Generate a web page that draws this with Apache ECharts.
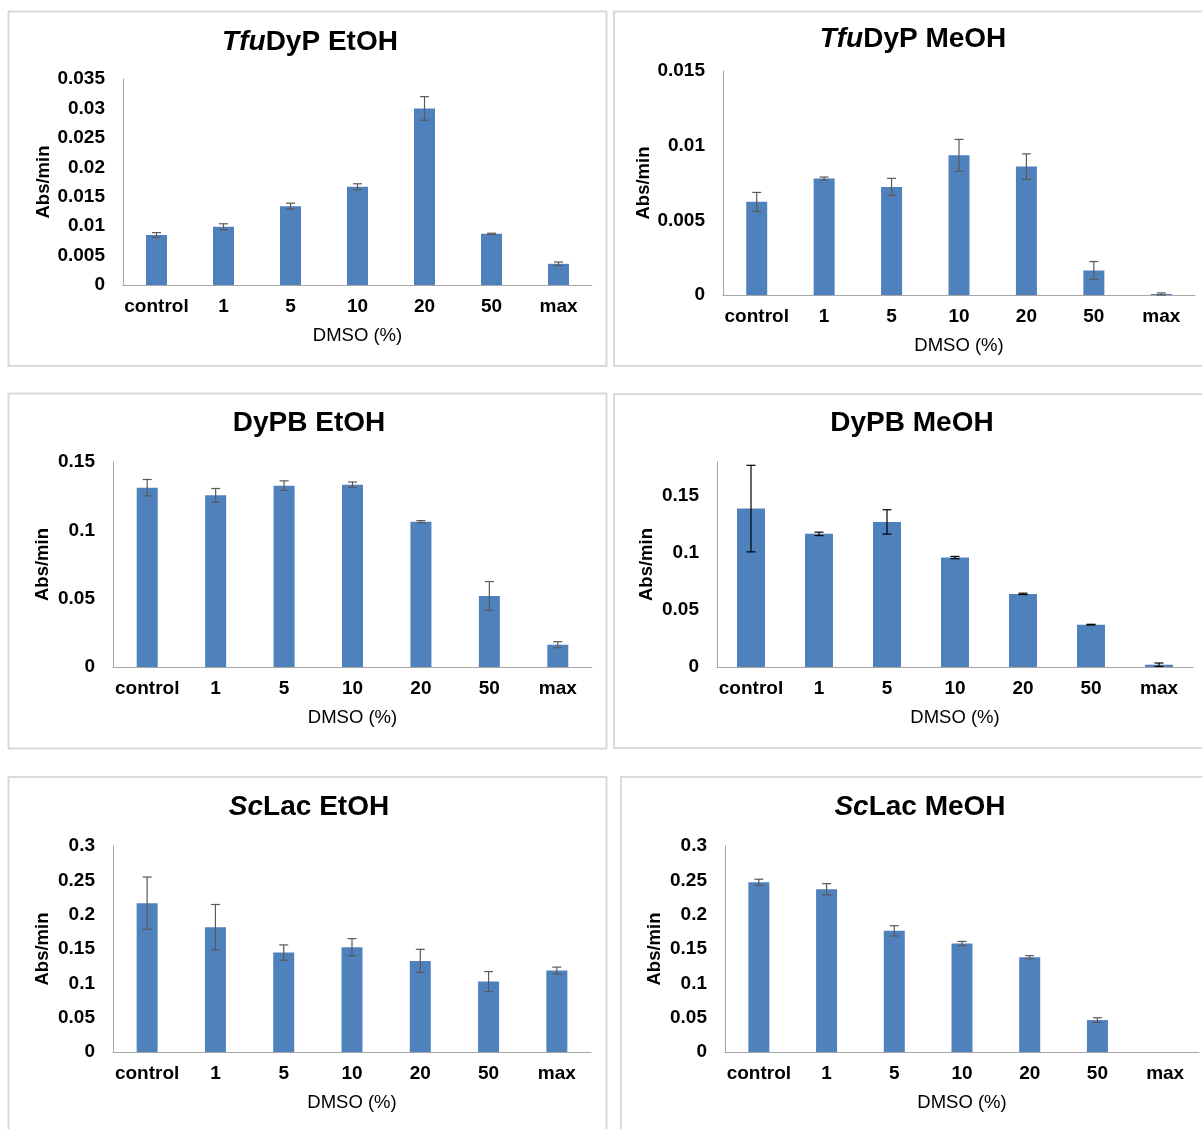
<!DOCTYPE html>
<html>
<head>
<meta charset="utf-8">
<script src="https://cdn.jsdelivr.net/npm/echarts@6/dist/echarts.min.js"></script>
<style>
html,body{margin:0;padding:0;background:#fff;}
#c{width:1202px;height:1129px;}
</style>
</head>
<body>
<div id="c"></div>
<script>
// ---- data ----
const categories = ['control', '1', '5', '10', '20', '50', 'max'];

const tfuEtOH    = [0.0085, 0.0099, 0.0134, 0.0167, 0.0300, 0.0087, 0.0036];
const tfuEtOHErr = [0.0004, 0.0005, 0.0005, 0.0005, 0.0020, 0.0001, 0.0003];

const tfuMeOH    = [0.00624, 0.0078, 0.00724, 0.00935, 0.0086, 0.00164, 0.00007];
const tfuMeOHErr = [0.00063, 0.0001, 0.00057, 0.00107, 0.00085, 0.0006, 0.00007];

const dypbEtOH    = [0.1312, 0.1256, 0.1327, 0.1334, 0.1063, 0.052, 0.0163];
const dypbEtOHErr = [0.006, 0.005, 0.0035, 0.002, 0.0008, 0.0105, 0.0022];

const dypbMeOH    = [0.1391, 0.1169, 0.1274, 0.0961, 0.0642, 0.0372, 0.002];
const dypbMeOHErr = [0.038, 0.0015, 0.0107, 0.001, 0.0006, 0.0003, 0.0015];

const scEtOH    = [0.2168, 0.1818, 0.1448, 0.1527, 0.1327, 0.1025, 0.1186];
const scEtOHErr = [0.038, 0.033, 0.0112, 0.0124, 0.0168, 0.0146, 0.005];

const scMeOH    = [0.2472, 0.237, 0.1764, 0.158, 0.1381, 0.0465, null];
const scMeOHErr = [0.0044, 0.0082, 0.0075, 0.003, 0.0022, 0.0034, null];

// y-axis tick settings (max, step) per panel
const yMax  = [0.035, 0.015, 0.15, 0.18, 0.3, 0.3];
const yStep = [0.005, 0.005, 0.05, 0.05, 0.05, 0.05];

const titles = [
  ['Tfu', 'DyP EtOH'], ['Tfu', 'DyP MeOH'],
  ['', 'DyPB EtOH'],   ['', 'DyPB MeOH'],
  ['Sc', 'Lac EtOH'],  ['Sc', 'Lac MeOH']
];
const xName = 'DMSO (%)';
const yName = 'Abs/min';

// ---- layout ----
const FONT = 'Liberation Sans, Arial, sans-serif';
const panels = [
  {grid:{left:123, top:79,  width:469, height:206}, box:[8.5,11.5,598,354.5],  title:[310,42],  gapY:70, barW:21, errColor:'#595959', hideMax:false},
  {grid:{left:723, top:71,  width:472, height:224}, box:[614,11.5,600,354.5],  title:[913,39],  gapY:67, barW:21, errColor:'#595959', hideMax:false},
  {grid:{left:113, top:462, width:479, height:205}, box:[8.5,393.5,598,355],   title:[309,423], gapY:61, barW:21, errColor:'#595959', hideMax:false},
  {grid:{left:717, top:462, width:476, height:205}, box:[614,394,600,354],     title:[912,423], gapY:61, barW:28, errColor:'#000000', hideMax:true},
  {grid:{left:113, top:846, width:478, height:206}, box:[8.5,777,598,400],     title:[309,807], gapY:61, barW:21, errColor:'#595959', hideMax:false},
  {grid:{left:725, top:846, width:474, height:206}, box:[621,777,600,400],     title:[920,807], gapY:61, barW:21, errColor:'#595959', hideMax:false}
];
const values = [tfuEtOH, tfuMeOH, dypbEtOH, dypbMeOH, scEtOH, scMeOH];
const errors = [tfuEtOHErr, tfuMeOHErr, dypbEtOHErr, dypbMeOHErr, scEtOHErr, scMeOHErr];

const grids = [], xAxes = [], yAxes = [], series = [], graphics = [];

panels.forEach((p, i) => {
  grids.push(Object.assign({containLabel:false}, p.grid));
  xAxes.push({
    type:'category', gridIndex:i, data:categories,
    axisLine:{lineStyle:{color:'#a6a6a6', width:1}},
    axisTick:{show:false},
    axisLabel:{color:'#000', fontSize:19, fontWeight:'bold', fontFamily:FONT, margin:12, interval:0},
    name:xName, nameLocation:'middle', nameGap:41,
    nameTextStyle:{color:'#000', fontSize:18.5, fontFamily:FONT}
  });
  yAxes.push({
    type:'value', gridIndex:i, min:0, max:yMax[i], interval:yStep[i],
    axisLine:{show:true, lineStyle:{color:'#a6a6a6', width:1}},
    axisTick:{show:false},
    splitLine:{show:false},
    axisLabel:{color:'#000', fontSize:19, fontWeight:'bold', fontFamily:FONT, margin:18,
      showMaxLabel: !p.hideMax,
      formatter: v => String(parseFloat(Number(v).toFixed(4)))},
    name:yName, nameLocation:'middle', nameGap:p.gapY, nameRotate:90,
    nameTextStyle:{color:'#000', fontSize:18.5, fontWeight:'bold', fontFamily:FONT}
  });
  series.push({
    type:'bar', xAxisIndex:i, yAxisIndex:i, data:values[i], barWidth:p.barW,
    itemStyle:{color:'#4F81BD'}, silent:true, animation:false
  });
  const errData = values[i].map((v, k) => v == null ? null : [k, v, errors[i][k]]).filter(d => d);
  const col = p.errColor;
  series.push({
    type:'custom', xAxisIndex:i, yAxisIndex:i, z:5, animation:false, silent:true,
    data: errData,
    encode:{x:0, y:1},
    renderItem: (params, api) => {
      const x = api.value(0), v = api.value(1), e = api.value(2);
      const top = api.coord([x, v + e]);
      const bot = api.coord([x, Math.max(0, v - e)]);
      const hw = 4.5;
      const st = {stroke:col, lineWidth:1.2};
      return {type:'group', children:[
        {type:'line', shape:{x1:top[0], y1:top[1], x2:bot[0], y2:bot[1]}, style:st},
        {type:'line', shape:{x1:top[0]-hw, y1:top[1], x2:top[0]+hw, y2:top[1]}, style:st},
        {type:'line', shape:{x1:bot[0]-hw, y1:bot[1], x2:bot[0]+hw, y2:bot[1]}, style:st}
      ]};
    }
  });
  graphics.push({
    type:'rect', shape:{x:p.box[0], y:p.box[1], width:p.box[2], height:p.box[3]},
    style:{fill:null, stroke:'#d9d9d9', lineWidth:2}, silent:true, z:-1
  });
  const t = titles[i];
  graphics.push({
    type:'text', x:p.title[0], y:p.title[1], silent:true,
    style:{
      text: (t[0] ? '{i|' + t[0] + '}' : '') + '{n|' + t[1] + '}',
      textAlign:'center', textVerticalAlign:'middle',
      rich:{
        i:{fontSize:28, fontWeight:'bold', fontStyle:'italic', fontFamily:FONT, fill:'#000'},
        n:{fontSize:28, fontWeight:'bold', fontFamily:FONT, fill:'#000'}
      }
    }
  });
});

const chart = echarts.init(document.getElementById('c'), null, {renderer:'canvas'});
chart.setOption({
  animation:false,
  backgroundColor:'#ffffff',
  grid:grids, xAxis:xAxes, yAxis:yAxes, series:series, graphic:graphics
});
</script>
</body>
</html>
